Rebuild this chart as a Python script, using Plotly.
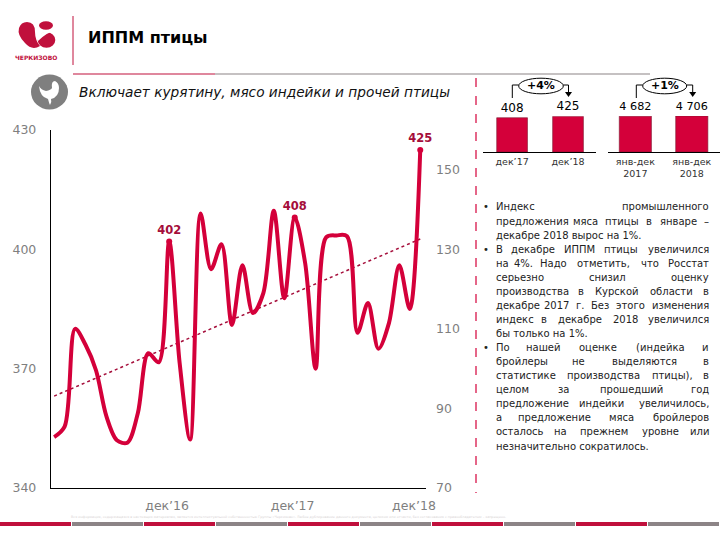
"""ИППМ птицы slide: monthly index, trend, two small bar panels and notes."""

import plotly.graph_objects as go

W = 720
H = 540
RED = "#d4003a"
DARK_RED = "#a50d3a"
STRIPE_RED = "#c0103c"
STRIPE_GREY = "#8c8486"
AXIS_TXT = "#7f7f7f"
FONT = "DejaVu Sans"

MONTHS = list(range(36))
IPPM = [
    352.8, 355.4, 380.0, 376.0, 369.6, 358.0, 352.0, 351.4, 358.8, 373.9, 371.6, 402.0,
    371.4, 352.2, 409.0, 395.0, 401.3, 381.0, 396.0, 384.0, 389.0, 409.7, 387.7, 408.0,
    396.5, 370.0, 403.0, 403.5, 403.3, 379.0, 386.5, 375.0, 381.4, 396.0, 385.0, 425.0,
]
TREND_X = [0, 35]
TREND_Y = [363.1, 402.6]
LABELLED = {11: "402", 23: "408", 35: "425"}
X_TICKS = [10.8, 22.8, 34.4]
X_LABELS = ["дек’16", "дек’17", "дек’18"]
LEFT_TICKS = [340, 370, 400, 430]
RIGHT_TICKS = [70, 90, 110, 130, 150]

DEC_CATS = ["дек’17", "дек’18"]
DEC_VALS = [408, 425]
DEC_TEXT = ["408", "425"]
YEAR_CATS = ["янв-дек<br>2017", "янв-дек<br>2018"]
YEAR_VALS = [4682, 4706]
YEAR_TEXT = ["4 682", "4 706"]

NOTES = [
    (True, True, "Индекс промышленного"),
    (False, True, "предложения мяса птицы в январе –"),
    (False, False, "декабре 2018 вырос на 1%."),
    (True, True, "В декабре ИППМ птицы увеличился"),
    (False, True, "на 4%. Надо отметить, что Росстат"),
    (False, True, "серьезно снизил оценку"),
    (False, True, "производства в Курской области в"),
    (False, True, "декабре 2017 г. Без этого изменения"),
    (False, True, "индекс в декабре 2018 увеличился"),
    (False, False, "бы только на 1%."),
    (True, True, "По нашей оценке (индейка и"),
    (False, True, "бройлеры не выделяются в"),
    (False, True, "статистике производства птицы), в"),
    (False, True, "целом за прошедший год"),
    (False, True, "предложение индейки увеличилось,"),
    (False, True, "а предложение мяса бройлеров"),
    (False, True, "осталось на прежнем уровне или"),
    (False, False, "незначительно сократилось."),
]
FOOTER = (
    "Вся информация, содержащаяся в настоящих материалах, является интеллектуальной "
    "собственностью Группы «Черкизово». Любое дублирование данного документа, целиком "
    "или отчасти, без согласования с правообладателем – запрещено."
)


def px(x):
    return x / W


def py(y):
    return 1 - y / H


def line(x0, y0, x1, y1, color, width=1, dash="solid"):
    return dict(
        type="line", xref="paper", yref="paper",
        x0=px(x0), y0=py(y0), x1=px(x1), y1=py(y1),
        line=dict(color=color, width=width, dash=dash),
    )


def blob(points, color):
    # closed smooth-ish path through pixel points, Q segments in pairs
    d = f"M {px(points[0][0])} {py(points[0][1])}"
    rest = points[1:]
    for i in range(0, len(rest), 2):
        a, b = rest[i], rest[i + 1]
        d += f" Q {px(a[0])} {py(a[1])} {px(b[0])} {py(b[1])}"
    return dict(type="path", xref="paper", yref="paper", path=d + " Z",
                fillcolor=color, line=dict(width=0))


def circle(cx, cy, rx, ry, color, border=None):
    return dict(
        type="circle", xref="paper", yref="paper",
        x0=px(cx - rx), x1=px(cx + rx), y0=py(cy + ry), y1=py(cy - ry),
        fillcolor=color, line=dict(color=border or color, width=1 if border else 0),
    )


def label(x, y, text, size=10, color="#000000", anchor="left", **font):
    return dict(
        xref="paper", yref="paper", x=px(x), y=py(y), text=text, showarrow=False,
        xanchor=anchor, yanchor="middle", font=dict(family=FONT, size=size, color=color, **font),
    )


def word_width(word, size):
    # rough DejaVu advance widths, enough to share out the gaps of a justified line
    total = 0
    for ch in word:
        if ch in "жшщюыфмШЩЮМ":
            total += 0.86
        elif ch in "гзс":
            total += 0.53
        elif ch in ",.():":
            total += 0.36
        else:
            total += 0.63
    return total * size


fig = go.Figure()

# main chart
fig.add_trace(go.Scatter(
    x=TREND_X, y=TREND_Y, mode="lines", xaxis="x", yaxis="y",
    line=dict(color=DARK_RED, width=1.5, dash="dot"),
))
fig.add_trace(go.Scatter(
    x=MONTHS, y=IPPM, mode="lines", xaxis="x", yaxis="y",
    line=dict(color=RED, width=4, shape="spline", smoothing=0.9),
))
fig.add_trace(go.Scatter(
    x=list(LABELLED), y=[IPPM[i] for i in LABELLED], mode="markers+text",
    text=list(LABELLED.values()), textposition="top center", xaxis="x", yaxis="y",
    marker=dict(color=RED, size=6),
    textfont=dict(family=FONT, size=11.5, color=DARK_RED, weight="bold"),
    cliponaxis=False,
))
# right scale is the left one shifted, only there for its ticks
fig.add_trace(go.Scatter(x=[0], y=[70], mode="markers", marker=dict(opacity=0), xaxis="x", yaxis="y2"))

# small panels
fig.add_trace(go.Bar(
    x=DEC_CATS, y=DEC_VALS, text=DEC_TEXT, textposition="outside", xaxis="x3", yaxis="y3",
    marker=dict(color=RED, line=dict(color="#7a1a30", width=0.6)), width=0.55,
    textfont=dict(family=FONT, size=12, color="#000000"), cliponaxis=False,
))
fig.add_trace(go.Bar(
    x=YEAR_CATS, y=YEAR_VALS, text=YEAR_TEXT, textposition="outside", xaxis="x4", yaxis="y4",
    marker=dict(color=RED, line=dict(color="#7a1a30", width=0.6)), width=0.57,
    textfont=dict(family=FONT, size=12, color="#000000"), cliponaxis=False,
))

shapes = [
    line(73, 16, 73, 65, STRIPE_RED),
    line(215, 74, 650, 74, "#8c8486", 1.2),
    line(73, 74, 215, 74, STRIPE_RED, 1.2),
    line(476, 78, 476, 493, RED, 1.2, "dash"),
    # logo
    blob([(27, 22), (35, 22), (35, 32), (35, 40), (40, 46), (32, 51), (25, 43), (17, 35), (19, 28), (21, 22), (27, 22)], STRIPE_RED),
    circle(46, 25.5, 7, 4.2, STRIPE_RED),
    circle(46.5, 40, 8.8, 7.8, STRIPE_RED),
    blob([(36, 37), (44, 29), (57, 30), (47, 32), (38, 41), (37, 39), (36, 37)], "#ffffff"),
    # chicken badge
    circle(49.5, 92, 18.5, 17.5, "#7f7f7f"),
    blob([(39, 86), (40, 97), (48, 99), (49, 103), (50, 105), (52, 102), (51, 99),
          (59, 97), (59, 88), (59, 83), (55, 81), (51, 81), (52, 88), (51, 90), (46, 91),
          (41, 90), (39, 86)], "#ffffff"),
]

# growth brackets over the small panels
for x0, e0, e1, x1, txt in [(512.3, 518.7, 563.3, 568.5, "+4%"), (636.3, 642.7, 686.7, 692.7, "+1%")]:
    shapes += [
        line(x0, 98, x0, 85, "#000000"),
        line(x0, 85, e0, 85, "#000000"),
        line(e1, 85, x1, 85, "#000000"),
        line(x1, 85, x1, 92, "#000000"),
        dict(type="path", xref="paper", yref="paper", fillcolor="#000000", line=dict(width=0),
             path=f"M {px(x1 - 3.5)} {py(92)} L {px(x1 + 3.5)} {py(92)} L {px(x1)} {py(97)} Z"),
        circle((e0 + e1) / 2, 86, (e1 - e0) / 2, 7.8, "#ffffff", "#000000"),
    ]

# bottom stripes
for i in range(10):
    shapes.append(dict(
        type="rect", xref="paper", yref="paper",
        x0=px(72 * i), x1=px(72 * i + 71), y0=py(526), y1=py(522),
        fillcolor=STRIPE_RED if i % 2 == 0 else STRIPE_GREY, line=dict(width=0),
    ))

notes = [
    label(85.5, 37, "ИППМ птицы", size=16, weight="bold"),
    label(76.5, 92, "Включает курятину, мясо индейки и прочей птицы", size=13.7, color="#111111", style="italic"),
    label(36, 58, "ЧЕРКИЗОВО", size=6, color=STRIPE_RED, anchor="center", weight="bold"),
    label(541, 86, "+4%", size=11, anchor="center", weight="bold"),
    label(664.7, 86, "+1%", size=11, anchor="center", weight="bold"),
    label(288, 517, FOOTER, size=3.35, color="#d9d4d5", anchor="center"),
]

# notes column: one annotation per word so the lines stay justified
LEFT = 493.5
RIGHT = 710.5
NOTE_SIZE = 10
y = 207
for n, (bullet, justify, text) in enumerate(NOTES):
    if bullet:
        notes.append(label(481, y, "•", size=NOTE_SIZE, color="#222222"))
    words = text.split(" ")
    if not justify or len(words) == 1:
        notes.append(label(LEFT, y, text, size=NOTE_SIZE, color="#222222"))
    else:
        widths = [word_width(w, NOTE_SIZE) for w in words]
        gap = (RIGHT - LEFT - sum(widths)) / (len(words) - 1)
        pos = LEFT
        for k, w in enumerate(words):
            if k == 0:
                notes.append(label(LEFT, y, w, size=NOTE_SIZE, color="#222222"))
            elif k == len(words) - 1:
                notes.append(label(RIGHT, y, w, size=NOTE_SIZE, color="#222222", anchor="right"))
            else:
                notes.append(label(pos + widths[k] / 2, y, w, size=NOTE_SIZE, color="#222222", anchor="center"))
            pos += widths[k] + gap
    y += 14.06

axis_font = dict(family=FONT, size=12.5, color=AXIS_TXT)
small_font = dict(family=FONT, size=9.5, color="#333333")

fig.update_layout(
    width=W,
    height=H,
    margin=dict(l=0, r=0, t=0, b=0, pad=0, autoexpand=False),
    paper_bgcolor="#ffffff",
    plot_bgcolor="#ffffff",
    showlegend=False,
    shapes=shapes,
    annotations=notes,
    xaxis=dict(
        domain=[px(51), px(426)], range=[-0.3, 35.55], anchor="y",
        tickvals=X_TICKS, ticktext=X_LABELS, tickfont=axis_font,
        showgrid=False, zeroline=False, showline=True, linecolor="#000000", linewidth=1.4,
        ticks="", ticklabelstandoff=6,
    ),
    yaxis=dict(
        domain=[py(488), py(130)], range=[340, 430], anchor="x",
        tickvals=LEFT_TICKS, tickfont=axis_font,
        showgrid=False, zeroline=False, showline=True, linecolor="#000000", linewidth=1.4,
        ticks="", ticklabelstandoff=11,
    ),
    yaxis2=dict(
        domain=[py(488), py(130)], range=[70, 160], anchor="x", overlaying="y", side="right",
        tickvals=RIGHT_TICKS, tickfont=axis_font, showgrid=False, zeroline=False,
        showline=False, ticks="", ticklabelstandoff=9,
    ),
    xaxis3=dict(
        domain=[px(483), px(596)], range=[-0.52, 1.5], anchor="y3", type="category",
        tickfont=small_font, showgrid=False, zeroline=False,
        showline=True, linecolor="#000000", linewidth=1.2, ticks="",
    ),
    yaxis3=dict(
        domain=[py(152), py(116.3)], range=[0, 425], anchor="x3", visible=False,
    ),
    xaxis4=dict(
        domain=[px(607.7), px(720)], range=[-0.49, 1.5], anchor="y4", type="category",
        tickfont=small_font, showgrid=False, zeroline=False,
        showline=True, linecolor="#000000", linewidth=1.2, ticks="",
    ),
    yaxis4=dict(
        domain=[py(152), py(116)], range=[0, 4706], anchor="x4", visible=False,
    ),
)

# plotly's page keeps the browser's body margin, which would shift the slide
fig.write_html(
    "out.html",
    config=dict(displayModeBar=False),
    post_script="document.body.style.margin='0';document.body.style.overflow='hidden';",
)
